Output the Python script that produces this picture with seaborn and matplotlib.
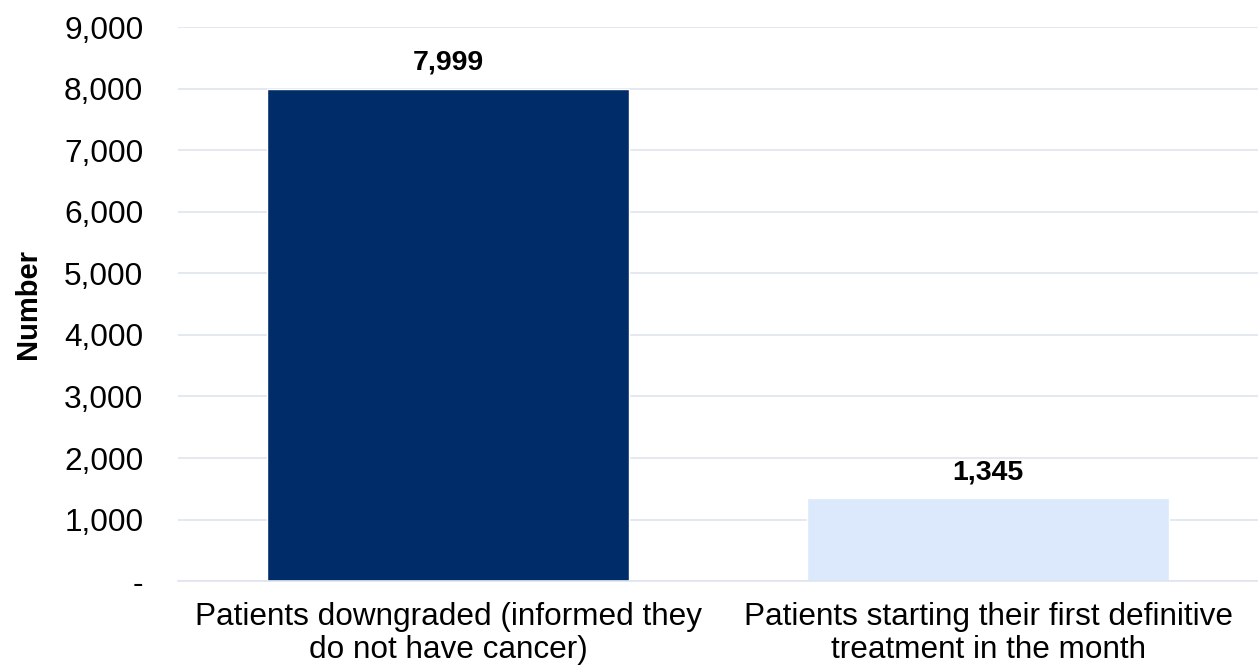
import pandas as pd
import seaborn as sns
import matplotlib.pyplot as plt
from matplotlib.ticker import FuncFormatter, MultipleLocator

# data
categories = ["Patients downgraded (informed they\ndo not have cancer)",
              "Patients starting their first definitive\ntreatment in the month"]
values = [7999, 1345]
bar_colors = ["#002c69", "#dce9fc"]

df = pd.DataFrame({"category": categories, "value": values})

sns.set_theme(style="white")
plt.rcParams['font.family'] = ['Liberation Sans', 'DejaVu Sans']
plt.rcParams['text.color'] = 'black'

fig = plt.figure(figsize=(12.58, 6.68), dpi=100)
ax = fig.add_axes([0.1415, 0.130, 0.8585, 0.8295])

sns.barplot(data=df, x="category", y="value", hue="category",
            palette=bar_colors, width=0.67, legend=False, ax=ax,
            saturation=1)

ax.set_xlim(-0.5, 1.5)
ax.set_ylim(0, 9000)
ax.yaxis.set_major_locator(MultipleLocator(1000))
ax.yaxis.set_major_formatter(FuncFormatter(lambda v, p: "-" if v == 0 else f"{int(v):,}"))
ax.grid(axis="y", color="#dfe4ee", linewidth=1.2)
ax.set_axisbelow(True)
for s in ["top", "right", "left"]:
    ax.spines[s].set_visible(False)
ax.spines["bottom"].set_color("#dfe4ee")
ax.spines["bottom"].set_linewidth(1.2)

ax.tick_params(axis="y", length=0, pad=25, labelsize=22.8, labelcolor="black")
ax.tick_params(axis="x", length=0, pad=15, labelsize=22.7, labelcolor="black")
for lbl in ax.get_xticklabels():
    lbl.set_linespacing(1.12)
ax.set_xlabel("")
ax.set_ylabel("Number", fontsize=21, fontweight="bold", labelpad=16, color="black")

for i, v in enumerate(values):
    ax.annotate(f"{v:,}", (i, v), xytext=(0, 9.5), textcoords="offset points",
                ha="center", va="bottom", fontsize=20.5, fontweight="bold",
                color="black")

plt.savefig("out.png", dpi=100)
